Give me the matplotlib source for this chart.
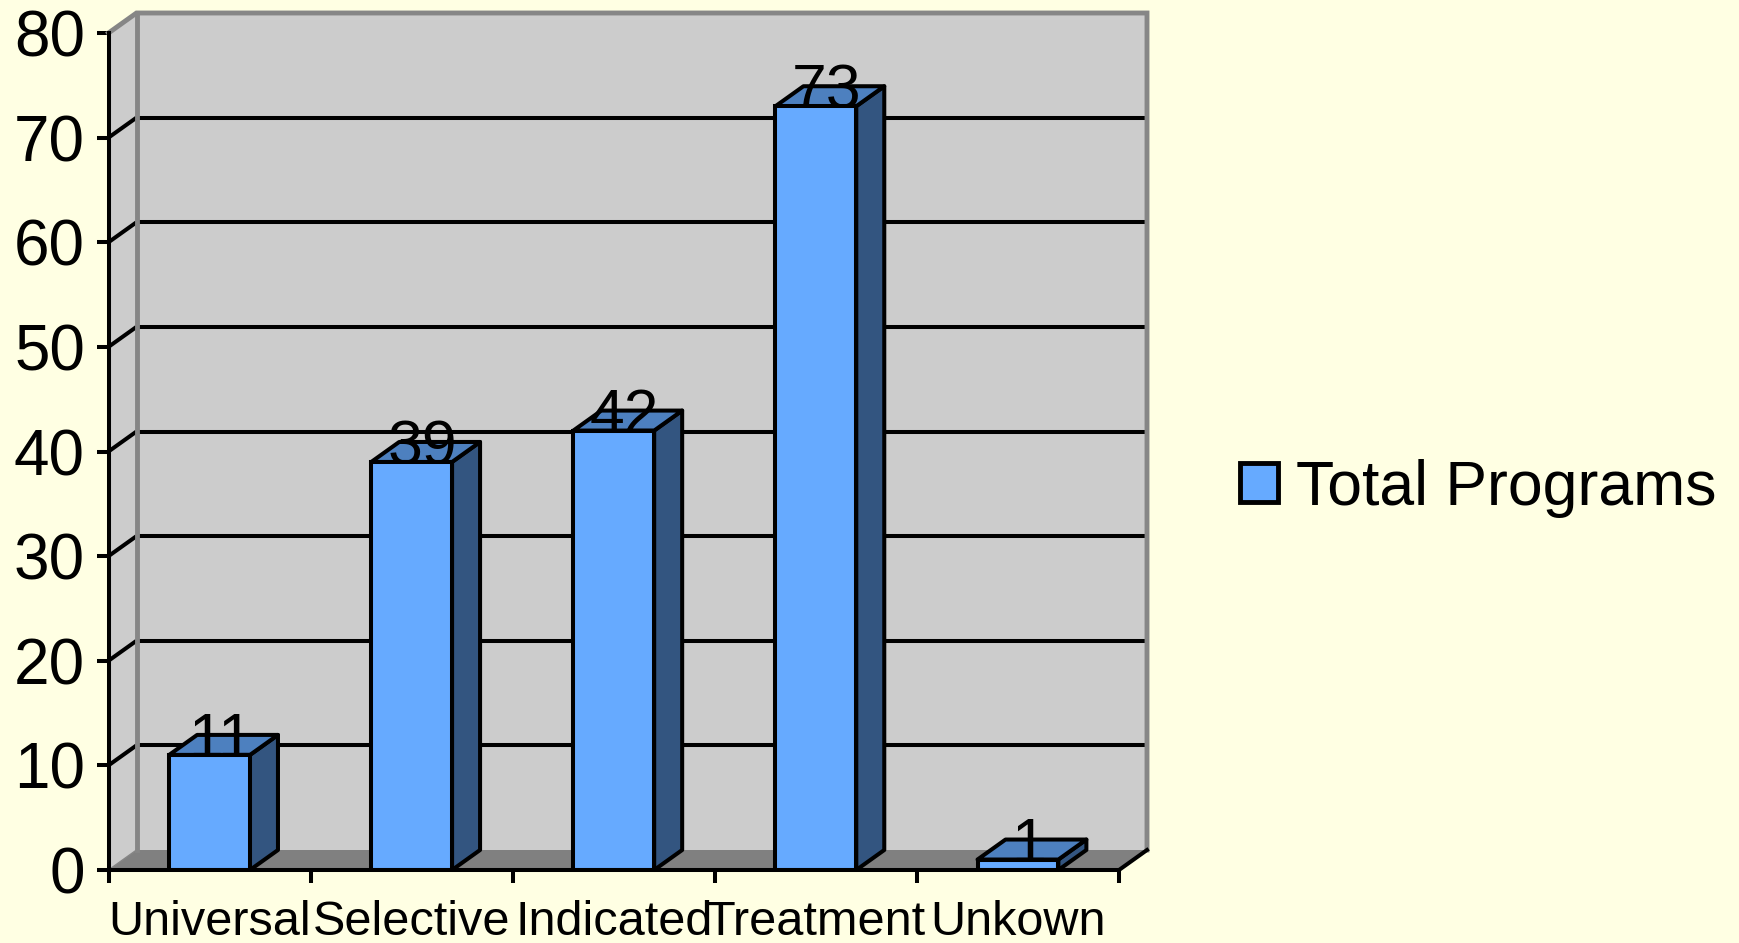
import matplotlib
matplotlib.use('Agg')
import numpy as np
import matplotlib.pyplot as plt
from matplotlib.patches import Polygon, Patch

# ------------------------------
# Data
# ------------------------------
categories = ['Universal', 'Selective', 'Indicated', 'Treatment', 'Unkown']
total_programs = [11, 39, 42, 73, 1]
y_ticks = [0, 10, 20, 30, 40, 50, 60, 70, 80]
series_name = 'Total Programs'

# ------------------------------
# Style
# ------------------------------
plt.rcParams['font.family'] = ['Liberation Sans', 'DejaVu Sans']
BG = '#FFFFE3'
WALL = '#CCCCCC'
FLOOR = '#808080'
EDGE_GRAY = '#868686'
FRONT = '#66AAFF'
TOP = '#4D80BF'
SIDE = '#335580'
LW = 2.9

W, H = 1739, 943
fig = plt.figure(figsize=(W / 100, H / 100), dpi=100, facecolor=BG)

# front plane of the fake 3D box
left, right, top, bottom = 108.5, 1119, 33, 870
ax = fig.add_axes([left / W, 1 - bottom / H, (right - left) / W, (bottom - top) / H])
ax.set_facecolor('none')
ax.set_xlim(0, len(categories))
ax.set_ylim(0, 80)

# depth offset of the box, in data units
dx = 28 / ((right - left) / len(categories))
dy = 20 / ((bottom - top) / 80)
x_max = len(categories)
y_max = y_ticks[-1]


def poly(points, **kw):
    ax.add_patch(Polygon(points, closed=True, clip_on=False, **kw))


# ------------------------------
# Walls and floor
# ------------------------------
poly([(dx, dy), (x_max + dx, dy), (x_max + dx, y_max + dy), (dx, y_max + dy)],
     facecolor=WALL, edgecolor='none', zorder=1)
poly([(0, 0), (dx, dy), (dx, y_max + dy), (0, y_max)],
     facecolor=WALL, edgecolor='none', zorder=1)
poly([(0, 0), (x_max, 0), (x_max + dx, dy), (dx, dy)],
     facecolor=FLOOR, edgecolor='none', zorder=1)

# gridlines on back wall and left wall
for v in y_ticks[1:-1]:
    ax.plot([dx, x_max + dx], [v + dy, v + dy], color='black', lw=LW,
            clip_on=False, zorder=2, solid_capstyle='butt')
    ax.plot([0, dx], [v, v + dy], color='black', lw=LW,
            clip_on=False, zorder=2, solid_capstyle='butt')

# gray wall borders
ax.plot([0, dx, x_max + dx, x_max + dx], [y_max, y_max + dy, y_max + dy, dy],
        color=EDGE_GRAY, lw=LW + 0.6, clip_on=False, zorder=3, solid_joinstyle='miter')
ax.plot([dx, dx], [dy, y_max + dy], color=EDGE_GRAY, lw=LW + 0.6, clip_on=False, zorder=3)
ax.plot([0, dx], [0, dy], color=EDGE_GRAY, lw=1, clip_on=False, zorder=3)
ax.plot([x_max, x_max + dx], [0, dy], color='black', lw=LW, clip_on=False, zorder=3)

# ------------------------------
# Bars
# ------------------------------
xpos = np.arange(len(categories)) + 0.5
bar_w = 0.4
bars = ax.bar(xpos, total_programs, width=bar_w, color=FRONT, edgecolor='black',
              linewidth=LW, zorder=6)
for x, v in zip(xpos, total_programs):
    x0, x1 = x - bar_w / 2, x + bar_w / 2
    poly([(x1, 0), (x1 + dx, dy), (x1 + dx, v + dy), (x1, v)],
         facecolor=SIDE, edgecolor='black', linewidth=LW, zorder=5, joinstyle='round')
    poly([(x0, v), (x1, v), (x1 + dx, v + dy), (x0 + dx, v + dy)],
         facecolor=TOP, edgecolor='black', linewidth=LW, zorder=5, joinstyle='round')
    ax.text(x + 0.055, v - 0.2, str(v), ha='center', va='baseline', fontsize=45,
            color='black', zorder=5.5)

# ------------------------------
# Axes and ticks
# ------------------------------
for s in ['top', 'right']:
    ax.spines[s].set_visible(False)
for s in ['left', 'bottom']:
    ax.spines[s].set_linewidth(LW)
    ax.spines[s].set_zorder(8)

ax.set_yticks(y_ticks)
ax.tick_params(axis='y', length=9, width=LW, pad=8, labelsize=46)
ax.set_xticks(range(len(categories) + 1))
ax.set_xticklabels([])
ax.set_xticks(xpos, minor=True)
ax.set_xticklabels(categories, minor=True)
ax.tick_params(axis='x', which='major', length=9, width=LW)
ax.tick_params(axis='x', which='minor', length=0, pad=21.5, labelsize=35)

# ------------------------------
# Legend
# ------------------------------
ax.legend(handles=[Patch(facecolor=FRONT, edgecolor='black', linewidth=LW + 0.6, label=series_name)],
          loc='center left', bbox_to_anchor=(1240 / W, 1 - 488 / H),
          bbox_transform=fig.transFigure, frameon=False, fontsize=45,
          handlelength=0.6, handleheight=0.6, handletextpad=0.29,
          borderpad=0, borderaxespad=0)

fig.savefig('out.png', dpi=100, facecolor=BG)
